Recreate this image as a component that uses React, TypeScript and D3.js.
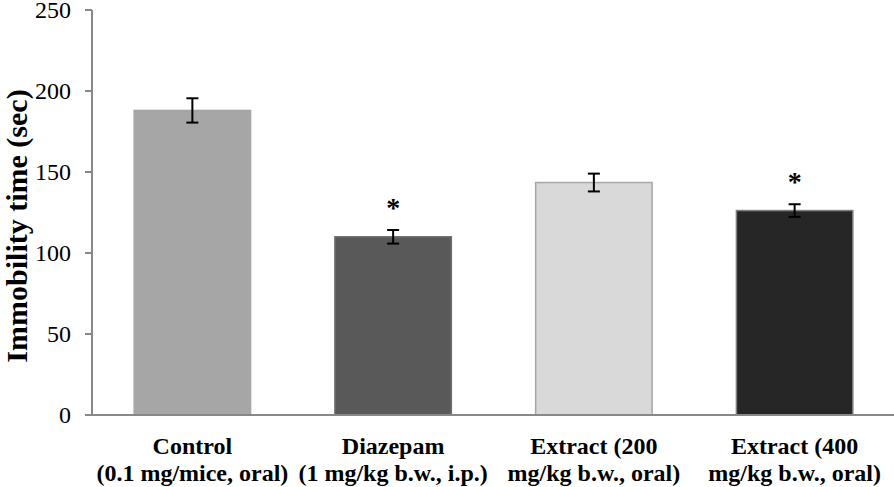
// @ts-nocheck
import * as d3 from "d3";
import React from "react";

const groups = ["Control", "Diazepam", "Extract 200", "Extract 400"];
const labelLine1 = ["Control", "Diazepam", "Extract (200", "Extract (400"];
const labelLine2 = [
  "(0.1 mg/mice, oral)",
  "(1 mg/kg b.w., i.p.)",
  "mg/kg b.w., oral)",
  "mg/kg b.w., oral)",
];
const means = [188, 110, 143.5, 126.2];
const sems = [7.5, 4.2, 5.5, 3.9];
const significant = [false, true, false, true];
const yTicks = [0, 50, 100, 150, 200, 250];

const fills = ["#a6a6a6", "#595959", "#d9d9d9", "#262626"];
const strokes = ["#a6a6a6", "#6e6e6e", "#a6a6a6", "#7f7f7f"];

const width = 894;
const height = 487;
const marginLeft = 92;
const marginRight = 0;
const marginTop = 10;
const baseY = 415;

const App = () => {
  const x = d3
    .scaleBand()
    .domain(groups)
    .range([marginLeft, width - marginRight + 1])
    .paddingInner(0.42)
    .paddingOuter(0.21);
  const y = d3.scaleLinear([0, 250], [baseY, marginTop]);
  const font = "Liberation Serif, Tinos, DejaVu Serif, serif";

  return (
    <svg
      width={width}
      height={height}
      style={{ position: "absolute", left: 0, top: 0, fontFamily: font }}
    >
      {/* bars */}
      {groups.map((g, i) => (
        <rect
          key={g}
          x={x(g)}
          y={y(means[i])}
          width={x.bandwidth()}
          height={baseY - y(means[i])}
          fill={fills[i]}
          stroke={strokes[i]}
          strokeWidth={1.5}
        />
      ))}

      {/* error bars */}
      <g stroke="#000" strokeWidth={2}>
        {groups.map((g, i) => {
          const cx = x(g) + x.bandwidth() / 2;
          const t = y(means[i] + sems[i]);
          const b = y(means[i] - sems[i]);
          return (
            <g key={g}>
              <line x1={cx} x2={cx} y1={t} y2={b} />
              <line x1={cx - 6} x2={cx + 6} y1={t} y2={t} />
              <line x1={cx - 6} x2={cx + 6} y1={b} y2={b} />
            </g>
          );
        })}
      </g>

      {/* significance */}
      {groups.map((g, i) =>
        significant[i] ? (
          <text
            key={g}
            x={x(g) + x.bandwidth() / 2}
            y={y(means[i] + sems[i]) - 13}
            textAnchor="middle"
            fontSize={28}
            fontWeight="bold"
          >
            *
          </text>
        ) : null
      )}

      {/* y axis */}
      <line
        x1={marginLeft}
        x2={marginLeft}
        y1={y(250)}
        y2={baseY}
        stroke="#888"
        strokeWidth={2}
      />
      {yTicks.map((t) => (
        <g key={t}>
          <line
            x1={marginLeft - 7}
            x2={marginLeft}
            y1={y(t)}
            y2={y(t)}
            stroke="#888"
            strokeWidth={2}
          />
          <text
            x={71}
            y={y(t)}
            dy="0.34em"
            textAnchor="end"
            fontSize={24}
            fill="#000"
          >
            {t}
          </text>
        </g>
      ))}

      {/* x axis */}
      <line
        x1={marginLeft - 7}
        x2={width}
        y1={baseY}
        y2={baseY}
        stroke="#888"
        strokeWidth={2}
      />

      {/* category labels */}
      {groups.map((g, i) => (
        <text
          key={g}
          x={x(g) + x.bandwidth() / 2}
          textAnchor="middle"
          fontSize={24}
          fontWeight="bold"
        >
          <tspan x={x(g) + x.bandwidth() / 2} y={454}>
            {labelLine1[i]}
          </tspan>
          <tspan x={x(g) + x.bandwidth() / 2} y={481}>
            {labelLine2[i]}
          </tspan>
        </text>
      ))}

      {/* y title */}
      <text
        transform={`translate(27,${226}) rotate(-90)`}
        textAnchor="middle"
        fontSize={30}
        fontWeight="bold"
      >
        Immobility time (sec)
      </text>
    </svg>
  );
};

export default App;
